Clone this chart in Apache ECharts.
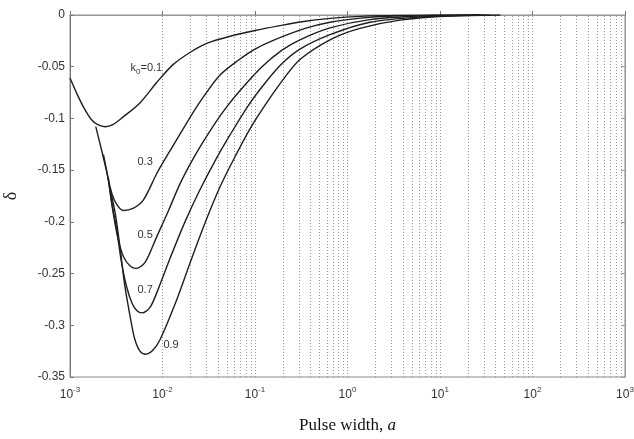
<!DOCTYPE html>
<html>
<head>
<meta charset="utf-8">
<script src="https://cdn.jsdelivr.net/npm/echarts@6/dist/echarts.min.js"></script>
<style>
  html, body { margin: 0; padding: 0; background: #fff; }
  #main { width: 634px; height: 439px; }
</style>
</head>
<body>
<div id="main"></div>
<script>
// ---------------------------------
// Data
// pulse width a (log scale) vs delta, one curve per k0
// ---------------------------------
const K0 = ['0.1', '0.3', '0.5', '0.7', '0.9'];

const a01 = [0.001, 0.0012, 0.0014, 0.0017, 0.0020, 0.0024, 0.0029, 0.0037, 0.0057, 0.0087, 0.013, 0.020, 0.031, 0.054, 0.10, 0.18, 0.32, 0.65, 1.4, 3.7, 30];
const d01 = [-0.061, -0.077, -0.089, -0.101, -0.106, -0.108, -0.106, -0.099, -0.085, -0.065, -0.048, -0.036, -0.027, -0.0205, -0.015, -0.0105, -0.0065, -0.0033, -0.0013, -0.0004, 0];

const a03 = [0.0019, 0.0022, 0.0025, 0.0028, 0.0032, 0.0038, 0.0048, 0.0062, 0.0087, 0.0112, 0.0155, 0.0208, 0.0288, 0.0419, 0.0655, 0.10, 0.153, 0.348, 0.647, 1.4, 3, 8, 35];
const d03 = [-0.108, -0.131, -0.152, -0.171, -0.183, -0.189, -0.187, -0.179, -0.153, -0.136, -0.115, -0.096, -0.077, -0.058, -0.044, -0.033, -0.025, -0.013, -0.007, -0.003, -0.001, -0.0003, 0];

const a05 = [0.0023, 0.0026, 0.0029, 0.0033, 0.0038, 0.0045, 0.0052, 0.0065, 0.0087, 0.0115, 0.0155, 0.0224, 0.0327, 0.0474, 0.0689, 0.119, 0.196, 0.306, 0.647, 1.75, 6.1, 27];
const d05 = [-0.135, -0.160, -0.189, -0.216, -0.234, -0.243, -0.245, -0.239, -0.214, -0.190, -0.163, -0.136, -0.112, -0.091, -0.073, -0.050, -0.034, -0.024, -0.0125, -0.0045, -0.001, 0];

const a07 = [0.0026, 0.0028, 0.0032, 0.0036, 0.0041, 0.0047, 0.0053, 0.0060, 0.0073, 0.0089, 0.0121, 0.0175, 0.0254, 0.0370, 0.0537, 0.0839, 0.128, 0.196, 0.306, 0.647, 1.75, 6.1, 27];
const d07 = [-0.158, -0.179, -0.208, -0.239, -0.263, -0.279, -0.286, -0.288, -0.283, -0.266, -0.235, -0.200, -0.169, -0.141, -0.116, -0.088, -0.066, -0.047, -0.033, -0.019, -0.007, -0.002, 0];

const a09 = [0.0027, 0.0031, 0.0035, 0.0039, 0.0045, 0.0050, 0.0057, 0.0066, 0.0079, 0.0094, 0.0136, 0.0198, 0.0288, 0.0419, 0.0608, 0.0883, 0.138, 0.211, 0.306, 0.647, 1.36, 3.7, 12.8, 45];
const d09 = [-0.167, -0.193, -0.227, -0.261, -0.293, -0.313, -0.325, -0.328, -0.324, -0.314, -0.280, -0.240, -0.201, -0.166, -0.137, -0.110, -0.083, -0.060, -0.043, -0.024, -0.013, -0.005, -0.001, 0];

// where the k0 labels sit (data coords, left edge of text)
const LABEL_A = [0.00446, 0.0053, 0.0053, 0.0053, 0.0101];
const LABEL_D = [-0.051, -0.142, -0.213, -0.266, -0.319];

const CURVES = [[a01, d01], [a03, d03], [a05, d05], [a07, d07], [a09, d09]];

// vertical dotted grid: 1..9 x 10^k inside the range
const gridX = [];
for (let e = -3; e < 3; e++) {
  for (let m = 1; m <= 9; m++) {
    if (e === -3 && m === 1) continue;
    gridX.push(+(m * Math.pow(10, e)).toPrecision(3));
  }
}

const TXT = '#333';
const FONT = 'Liberation Sans';

const series = CURVES.map((c, i) => ({
  name: 'k0=' + K0[i],
  type: 'line',
  data: c[0].map((a, j) => [a, c[1][j]]),
  showSymbol: false,
  smooth: 0.3,
  lineStyle: { color: '#1e1e1e', width: 1.4 },
  z: 5,
  markPoint: {
    symbol: 'circle',
    symbolSize: 1,
    silent: true,
    itemStyle: { color: 'rgba(0,0,0,0)' },
    label: {
      show: true,
      position: 'right',
      distance: 0,
      color: TXT,
      fontFamily: FONT,
      fontSize: 11,
      formatter: i === 0 ? '{k|k}{sub|0}{k|=0.1}' : K0[i],
      rich: {
        k: { color: TXT, fontFamily: FONT, fontSize: 11 },
        sub: { color: TXT, fontFamily: FONT, fontSize: 8, padding: [8, 0, 0, 0] }
      }
    },
    data: [{ coord: [LABEL_A[i], LABEL_D[i]] }]
  }
}));

// grid lines hang off the first series
series[0].markLine = {
  symbol: 'none',
  silent: true,
  animation: false,
  label: { show: false },
  lineStyle: { color: '#9a9a9a', type: [1, 2], width: 1 },
  data: gridX.map(v => ({ xAxis: v }))
};

var chart = echarts.init(document.getElementById('main'));

option = {
  animation: false,
  backgroundColor: '#fff',
  grid: {
    left: 70, right: 9, top: 15, bottom: 62,
    outerBoundsMode: 'none', containLabel: false,
    show: true, borderColor: '#888', borderWidth: 1
  },
  xAxis: [
    {
      type: 'log',
      logBase: 10,
      min: 0.001,
      max: 1000,
      name: '{n|Pulse width, }{i|a}',
      nameLocation: 'middle',
      nameGap: 40,
      nameTextStyle: {
        rich: {
          n: { fontFamily: 'Liberation Serif', fontSize: 17, color: '#111' },
          i: { fontFamily: 'Liberation Serif', fontSize: 17, fontStyle: 'italic', color: '#111' }
        }
      },
      axisLine: { lineStyle: { color: '#777' } },
      axisTick: { inside: true, length: 4, lineStyle: { color: '#777' } },
      splitLine: { show: false },
      axisLabel: {
        margin: 9,
        formatter: v => '{b|10}{s|' + Math.round(Math.log10(v)) + '}',
        rich: {
          b: { fontFamily: FONT, fontSize: 12, color: TXT },
          s: { fontFamily: FONT, fontSize: 8, color: TXT, padding: [0, 0, 9, 0] }
        }
      }
    },
    {
      type: 'log',
      logBase: 10,
      min: 0.001,
      max: 1000,
      position: 'top',
      axisLine: { lineStyle: { color: '#999' } },
      axisTick: { show: false },
      axisLabel: { show: false },
      splitLine: { show: false }
    }
  ],
  yAxis: [
    {
      type: 'value',
      min: -0.35,
      max: 0,
      interval: 0.05,
      name: 'δ',
      nameLocation: 'middle',
      nameRotate: 90,
      nameGap: 50,
      nameTextStyle: { fontFamily: 'Liberation Serif', fontSize: 18, color: '#222' },
      axisLine: { show: true, lineStyle: { color: '#777' } },
      axisTick: { show: true, inside: true, length: 4, lineStyle: { color: '#777' } },
      splitLine: { show: false },
      axisLabel: {
        margin: 5,
        fontFamily: FONT,
        fontSize: 12,
        color: TXT,
        formatter: v => (Math.abs(v) < 1e-9 ? '0' : String(+v.toFixed(2)))
      }
    },
    {
      type: 'value',
      min: -0.35,
      max: 0,
      interval: 0.05,
      position: 'right',
      axisLine: { show: true, lineStyle: { color: '#999' } },
      axisTick: { show: true, inside: true, length: 4, lineStyle: { color: '#999' } },
      axisLabel: { show: false },
      splitLine: { show: false }
    }
  ],
  series: series
};

option && chart.setOption(option);
</script>
</body>
</html>
